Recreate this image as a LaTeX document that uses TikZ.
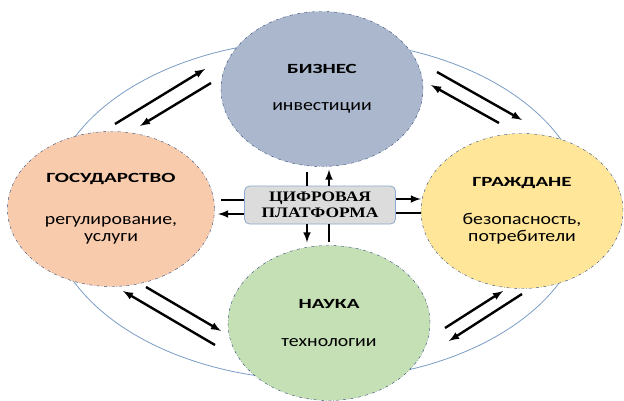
\documentclass[tikz,border=0pt]{standalone}
\usepackage{fontspec}
\setmainfont[FakeStretch=1.2]{Carlito}
\newfontfamily\titlefont[FakeStretch=1.5]{Carlito}
\newfontfamily\platfont[FakeStretch=1.2]{Liberation Serif}
\usetikzlibrary{shapes.geometric,calc}

\definecolor{bizfill}{HTML}{ABB7CD}
\definecolor{gosfill}{HTML}{F8CBAD}
\definecolor{grfill}{HTML}{FFE699}
\definecolor{naufill}{HTML}{C5E0B4}
\definecolor{rimcol}{HTML}{2F4B7C}
\definecolor{orbit}{HTML}{7A9CC6}
\definecolor{platfill}{HTML}{DCDCDC}
\definecolor{platrim}{HTML}{8EA9CF}

\newcommand{\sect}[1]{{\titlefont\bfseries\fontsize{14}{15}\selectfont #1}}

\tikzset{
    sector/.style={ellipse, draw=rimcol, dash dot, thin, inner sep=0pt,
        minimum width=202pt, minimum height=155pt, align=center,
        font=\fontsize{16.5}{17}\selectfont},
    flow/.style={->, >=latex, line width=2.4pt},
    link/.style={line width=2.4pt},
}

\begin{document}
\begin{tikzpicture}[x=1pt, y=-1pt]
    \useasboundingbox (0,0) rectangle (624,401);
    \draw [orbit, line width=0.8pt] (317,210) ellipse [x radius=268, y radius=170];

    \node [sector, fill=bizfill] (biz) at (322,89)
        {\sect{БИЗНЕС}\\[20pt]инвестиции};
    \node [sector, fill=gosfill, minimum width=207pt] (gos) at (111,209)
        {\sect{ГОСУДАРСТВО}\\[25pt]регулирование,\\услуги};
    \node [sector, fill=grfill] (gr) at (522,211)
        {\sect{ГРАЖДАНЕ}\\[21pt]безопасность,\\потребители};
    \node [sector, fill=naufill] (nau) at (329,323)
        {\sect{НАУКА}\\[21pt]технологии};
    \node [draw=platrim, fill=platfill, rounded corners=5pt, thick,
        minimum width=151pt, minimum height=38pt, inner sep=0pt, align=center,
        font=\platfont\bfseries\fontsize{14.5}{16}\selectfont] (plat) at (320,205)
        {ЦИФРОВАЯ\\ПЛАТФОРМА};

    % platform links
    \coordinate (pnl) at ($(plat.north)+(-13,0)$);
    \coordinate (pnr) at ($(plat.north)+(9,0)$);
    \coordinate (psl) at ($(plat.south)+(-13,0)$);
    \coordinate (psr) at ($(plat.south)+(9,0)$);
    \coordinate (pwu) at ($(plat.west)+(0,-5)$);
    \coordinate (pwd) at ($(plat.west)+(0,9)$);
    \coordinate (peu) at ($(plat.east)+(0,-6)$);
    \coordinate (ped) at ($(plat.east)+(0,8)$);
    \draw [flow] (pnr) -- ++(0,-16);
    \draw [link] (pnl) -- ++(0,-14);
    \draw [flow] (psl) -- ++(0,18);
    \draw [link] (psr) -- ++(0,18);
    \draw [link] (pwu) -- ++(-23,0);
    \draw [flow] (pwd) -- ++(-26,0);
    \draw [flow] (peu) -- (peu -| gr.west);
    \draw [link] (ped) -- ++(25,0);

    % exchange between sectors
    \coordinate (gb1) at (115,124); \coordinate (gb2) at (205,69);
    \coordinate (bg1) at (211,83);  \coordinate (bg2) at (140,126);
    \coordinate (bc1) at (437,72);  \coordinate (bc2) at (522,120);
    \coordinate (cb1) at (499,123); \coordinate (cb2) at (431,85);
    \coordinate (gn1) at (146,287); \coordinate (gn2) at (221,331);
    \coordinate (ng1) at (215,345); \coordinate (ng2) at (123,291);
    \coordinate (nc1) at (445,328); \coordinate (nc2) at (503,291);
    \coordinate (cn1) at (522,294); \coordinate (cn2) at (449,341);
    \draw [flow] (gb1) -- (gb2);
    \draw [flow] (bg1) -- (bg2);
    \draw [flow] (bc1) -- (bc2);
    \draw [flow] (cb1) -- (cb2);
    \draw [flow] (gn1) -- (gn2);
    \draw [flow] (ng1) -- (ng2);
    \draw [flow] (nc1) -- (nc2);
    \draw [flow] (cn1) -- (cn2);
\end{tikzpicture}
\end{document}
